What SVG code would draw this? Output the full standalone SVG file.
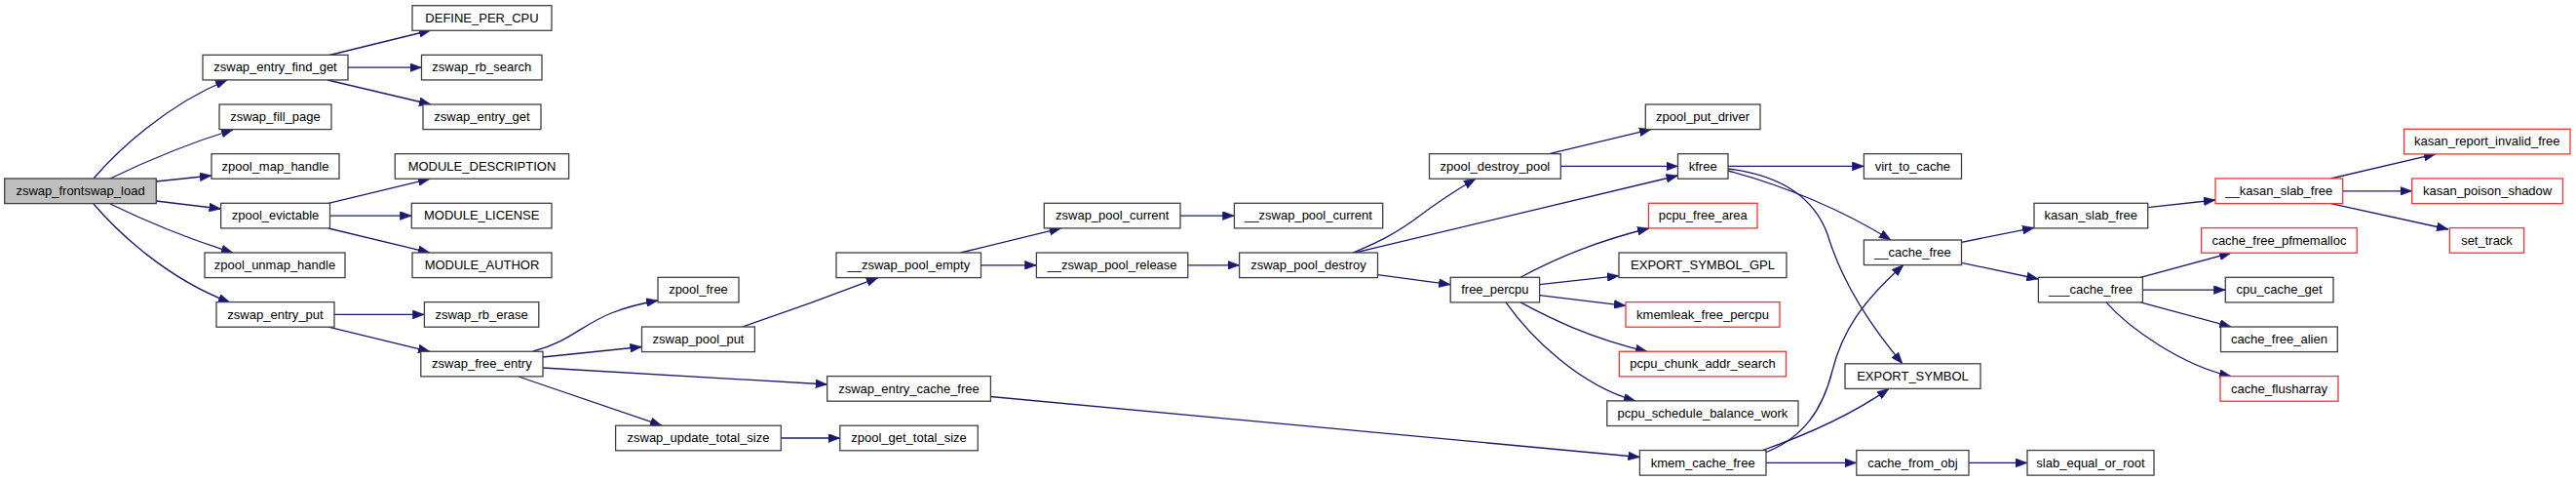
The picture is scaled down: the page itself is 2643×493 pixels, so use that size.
<svg xmlns="http://www.w3.org/2000/svg" width="2643" height="493" viewBox="0 0 2643 493">
<style>
.n rect{fill:#fff;stroke:#404040;stroke-width:1.3}
.n.r rect{stroke:#ff3030}
.n.root rect{fill:#bfbfbf}
.n text{font-family:"Liberation Sans",Arial,sans-serif;font-size:13px;fill:#000;text-anchor:middle}
.e path{fill:none;stroke:#191970;stroke-width:1.3;marker-end:url(#ah)}
</style>
<defs>
<marker id="ah" viewBox="0 0 12 9" refX="12" refY="4.5" markerWidth="12" markerHeight="9" markerUnits="userSpaceOnUse" orient="auto">
<path d="M0,0 L12,4.5 L0,9 z" fill="#191970" stroke="#191970" stroke-width="0.5"/>
</marker>
</defs>
<rect width="2643" height="493" fill="#fff"/>
<g id="edges" class="e">
<path d="M96,183 C120,155 170,108 233,82"/>
<path d="M113,183 C140,170 190,148 239,133"/>
<path d="M160,186 L217,180"/>
<path d="M160,206 L226.6,214"/>
<path d="M113,209 C140,222 190,244 239,259"/>
<path d="M96,209 C120,237 170,285 236,310"/>
<path d="M336,57 L442,31"/>
<path d="M357,69.2 L432.5,69.2"/>
<path d="M336,82 L442,107"/>
<path d="M337,208.3 L441,183.3"/>
<path d="M338.5,221.1 L422.3,221.1"/>
<path d="M337,234 L441,259"/>
<path d="M343,322.4 L435.4,322.4"/>
<path d="M337,335.2 L441,360.3"/>
<path d="M547,360 C583,351 597,333 627,321 C642,315 658,311 675,308"/>
<path d="M557,366 L658.5,355.5"/>
<path d="M557,377 L848.7,394"/>
<path d="M532,386 L679,436.2"/>
<path d="M762,335 C800,322 840,308 901,284.6"/>
<path d="M985.5,259 L1088.7,233.9"/>
<path d="M1006.5,271.8 L1063.4,271.8"/>
<path d="M801.3,449 L861.8,449"/>
<path d="M1016.4,406.5 L1682.4,468.5"/>
<path d="M1211,221.1 L1266.4,221.1"/>
<path d="M1218.8,271.8 L1271.6,271.8"/>
<path d="M1388,259 C1415,248 1430,240 1450,226 C1470,211 1490,197 1514,183.3"/>
<path d="M1390,259 L1721.5,180"/>
<path d="M1413.5,281.7 L1488.2,291.7"/>
<path d="M1589.5,157.7 L1694,132.6"/>
<path d="M1601.3,170.4 L1721.5,170.4"/>
<path d="M1560,284.3 C1590,268 1630,249 1692,234"/>
<path d="M1579.6,291.7 L1661,282.7"/>
<path d="M1579.6,302.7 L1668,313.3"/>
<path d="M1560,309.9 C1590,326 1630,346 1690,360.3"/>
<path d="M1545,309.9 C1570,345 1620,395 1678,410.9"/>
<path d="M1773,170.4 L1912.4,170.4"/>
<path d="M1773,175 C1830,190 1890,215 1940,246"/>
<path d="M1773,173 C1830,180 1862,205 1875,240 C1890,290 1920,335 1952,372.8"/>
<path d="M1808,465 C1850,450 1870,420 1880,380 C1890,340 1910,310 1953,271.6"/>
<path d="M1807,462 C1850,447 1900,425 1938,398.4"/>
<path d="M1812,474.4 L1904.8,474.4"/>
<path d="M2020,474.4 L2080,474.4"/>
<path d="M2012.5,248.3 L2087,233.4"/>
<path d="M2012.5,269.3 L2091.4,286"/>
<path d="M2203.7,212.7 L2273,205"/>
<path d="M2391.4,183 L2499,157.9"/>
<path d="M2403.7,195.8 L2474.7,195.8"/>
<path d="M2391.4,208.6 L2512,235"/>
<path d="M2196.2,284.3 L2289.2,259.2"/>
<path d="M2198.4,297.1 L2283.3,297.1"/>
<path d="M2196.2,309.9 L2289.2,335"/>
<path d="M2161,309.9 C2185,337 2240,375 2289,385.6"/>
</g>
<g id="zswap_frontswap_load" class="n root"><rect x="4.7" y="183" width="155.6" height="25.6"/><text x="82.5" y="200">zswap_frontswap_load</text></g>
<g id="zswap_entry_find_get" class="n"><rect x="208" y="56.35" width="149" height="25.6"/><text x="282.5" y="73.35">zswap_entry_find_get</text></g>
<g id="zswap_fill_page" class="n"><rect x="225" y="107" width="115" height="25.6"/><text x="282.5" y="124">zswap_fill_page</text></g>
<g id="zpool_map_handle" class="n"><rect x="217" y="157.65" width="131" height="25.6"/><text x="282.5" y="174.65">zpool_map_handle</text></g>
<g id="zpool_evictable" class="n"><rect x="226.6" y="208.3" width="111.9" height="25.6"/><text x="282.5" y="225.3">zpool_evictable</text></g>
<g id="zpool_unmap_handle" class="n"><rect x="210" y="259" width="144" height="25.6"/><text x="282" y="276">zpool_unmap_handle</text></g>
<g id="zswap_entry_put" class="n"><rect x="222" y="309.6" width="121" height="25.6"/><text x="282.5" y="326.6">zswap_entry_put</text></g>
<g id="DEFINE_PER_CPU" class="n"><rect x="423" y="5.7" width="143" height="25.6"/><text x="494.5" y="22.7">DEFINE_PER_CPU</text></g>
<g id="zswap_rb_search" class="n"><rect x="432.5" y="56.35" width="123.5" height="25.6"/><text x="494.3" y="73.35">zswap_rb_search</text></g>
<g id="zswap_entry_get" class="n"><rect x="434" y="107" width="121" height="25.6"/><text x="494.5" y="124">zswap_entry_get</text></g>
<g id="MODULE_DESCRIPTION" class="n"><rect x="405.3" y="157.65" width="178.3" height="25.6"/><text x="494.5" y="174.65">MODULE_DESCRIPTION</text></g>
<g id="MODULE_LICENSE" class="n"><rect x="422.3" y="208.3" width="143.7" height="25.6"/><text x="494.2" y="225.3">MODULE_LICENSE</text></g>
<g id="MODULE_AUTHOR" class="n"><rect x="423" y="259" width="143" height="25.6"/><text x="494.5" y="276">MODULE_AUTHOR</text></g>
<g id="zswap_rb_erase" class="n"><rect x="435.4" y="309.6" width="117.4" height="25.6"/><text x="494.1" y="326.6">zswap_rb_erase</text></g>
<g id="zswap_free_entry" class="n"><rect x="431.8" y="360.25" width="125.2" height="25.6"/><text x="494.4" y="377.25">zswap_free_entry</text></g>
<g id="zpool_free" class="n"><rect x="675" y="284.3" width="83" height="25.6"/><text x="716.5" y="301.3">zpool_free</text></g>
<g id="zswap_pool_put" class="n"><rect x="658.5" y="335" width="115.9" height="25.6"/><text x="716.5" y="352">zswap_pool_put</text></g>
<g id="zswap_update_total_size" class="n"><rect x="631.6" y="436.2" width="169.7" height="25.6"/><text x="716.5" y="453.2">zswap_update_total_size</text></g>
<g id="__zswap_pool_empty" class="n"><rect x="858" y="259" width="148.5" height="25.6"/><text x="932.3" y="276">__zswap_pool_empty</text></g>
<g id="zswap_entry_cache_free" class="n"><rect x="848.7" y="385.6" width="167.7" height="25.6"/><text x="932.5" y="402.6">zswap_entry_cache_free</text></g>
<g id="zpool_get_total_size" class="n"><rect x="861.8" y="436.2" width="141.5" height="25.6"/><text x="932.5" y="453.2">zpool_get_total_size</text></g>
<g id="zswap_pool_current" class="n"><rect x="1071.3" y="208.3" width="139.7" height="25.6"/><text x="1141.2" y="225.3">zswap_pool_current</text></g>
<g id="__zswap_pool_release" class="n"><rect x="1063.4" y="259" width="155.4" height="25.6"/><text x="1141.1" y="276">__zswap_pool_release</text></g>
<g id="__zswap_pool_current" class="n"><rect x="1266.4" y="208.3" width="152.3" height="25.6"/><text x="1342.5" y="225.3">__zswap_pool_current</text></g>
<g id="zswap_pool_destroy" class="n"><rect x="1271.6" y="259" width="141.9" height="25.6"/><text x="1342.5" y="276">zswap_pool_destroy</text></g>
<g id="zpool_destroy_pool" class="n"><rect x="1466.5" y="157.65" width="134.8" height="25.6"/><text x="1533.9" y="174.65">zpool_destroy_pool</text></g>
<g id="free_percpu" class="n"><rect x="1488.2" y="284.3" width="91.4" height="25.6"/><text x="1533.9" y="301.3">free_percpu</text></g>
<g id="zpool_put_driver" class="n"><rect x="1688.3" y="107" width="117.7" height="25.6"/><text x="1747.1" y="124">zpool_put_driver</text></g>
<g id="kfree" class="n"><rect x="1721.5" y="157.65" width="51.5" height="25.6"/><text x="1747.2" y="174.65">kfree</text></g>
<g id="pcpu_free_area" class="n r"><rect x="1691.5" y="208.3" width="111.5" height="25.6"/><text x="1747.2" y="225.3">pcpu_free_area</text></g>
<g id="EXPORT_SYMBOL_GPL" class="n"><rect x="1661" y="259" width="172" height="25.6"/><text x="1747" y="276">EXPORT_SYMBOL_GPL</text></g>
<g id="kmemleak_free_percpu" class="n r"><rect x="1668" y="309.6" width="158" height="25.6"/><text x="1747" y="326.6">kmemleak_free_percpu</text></g>
<g id="pcpu_chunk_addr_search" class="n r"><rect x="1661.4" y="360.25" width="171.1" height="25.6"/><text x="1747" y="377.25">pcpu_chunk_addr_search</text></g>
<g id="pcpu_schedule_balance_work" class="n"><rect x="1648.8" y="410.9" width="196.2" height="25.6"/><text x="1746.9" y="427.9">pcpu_schedule_balance_work</text></g>
<g id="kmem_cache_free" class="n"><rect x="1682.4" y="461.55" width="129.6" height="25.6"/><text x="1747.2" y="478.55">kmem_cache_free</text></g>
<g id="virt_to_cache" class="n"><rect x="1912.4" y="157.65" width="100.1" height="25.6"/><text x="1962.4" y="174.65">virt_to_cache</text></g>
<g id="__cache_free" class="n"><rect x="1912.4" y="246" width="100.1" height="25.6"/><text x="1962.4" y="263">__cache_free</text></g>
<g id="EXPORT_SYMBOL" class="n"><rect x="1893" y="372.8" width="139" height="25.6"/><text x="1962.5" y="389.8">EXPORT_SYMBOL</text></g>
<g id="cache_from_obj" class="n"><rect x="1904.8" y="461.55" width="115.2" height="25.6"/><text x="1962.4" y="478.55">cache_from_obj</text></g>
<g id="kasan_slab_free" class="n"><rect x="2087" y="208.3" width="116.7" height="25.6"/><text x="2145.3" y="225.3">kasan_slab_free</text></g>
<g id="___cache_free" class="n"><rect x="2091.4" y="284.3" width="107" height="25.6"/><text x="2144.9" y="301.3">___cache_free</text></g>
<g id="slab_equal_or_root" class="n"><rect x="2080" y="461.55" width="130" height="25.6"/><text x="2145" y="478.55">slab_equal_or_root</text></g>
<g id="__kasan_slab_free" class="n r"><rect x="2273" y="183" width="130.7" height="25.6"/><text x="2338.3" y="200">__kasan_slab_free</text></g>
<g id="cache_free_pfmemalloc" class="n r"><rect x="2258.6" y="233.6" width="159.6" height="25.6"/><text x="2338.4" y="250.6">cache_free_pfmemalloc</text></g>
<g id="cpu_cache_get" class="n"><rect x="2283.3" y="284.3" width="110.7" height="25.6"/><text x="2338.6" y="301.3">cpu_cache_get</text></g>
<g id="cache_free_alien" class="n"><rect x="2278.5" y="335" width="119.8" height="25.6"/><text x="2338.4" y="352">cache_free_alien</text></g>
<g id="cache_flusharray" class="n r"><rect x="2278" y="385.6" width="121" height="25.6"/><text x="2338.5" y="402.6">cache_flusharray</text></g>
<g id="kasan_report_invalid_free" class="n r"><rect x="2466.6" y="132.3" width="170.4" height="25.6"/><text x="2551.8" y="149.3">kasan_report_invalid_free</text></g>
<g id="kasan_poison_shadow" class="n r"><rect x="2474.7" y="183" width="154.8" height="25.6"/><text x="2552.1" y="200">kasan_poison_shadow</text></g>
<g id="set_track" class="n r"><rect x="2513.4" y="233.6" width="76.3" height="25.6"/><text x="2551.5" y="250.6">set_track</text></g>
</svg>
